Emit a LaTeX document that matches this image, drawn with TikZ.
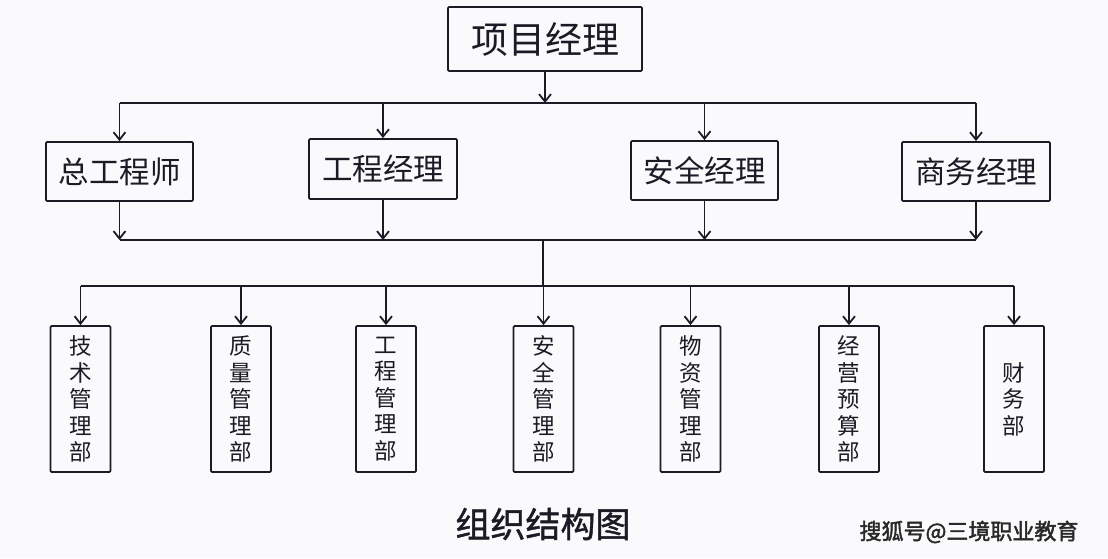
\documentclass[tikz,border=0pt]{standalone}
\usepackage{fontspec}
\setmainfont{Noto Sans CJK SC}
\newfontfamily\cjkbold{Noto Sans CJK SC}[FakeBold=1.2]
\newfontfamily\cjkwm{Noto Sans CJK SC}[FakeBold=2]
\usetikzlibrary{arrows.meta}
\definecolor{bgc}{RGB}{250,250,252}
\definecolor{inkc}{RGB}{28,26,36}
\definecolor{wmc}{RGB}{40,40,40}
\begin{document}
\begin{tikzpicture}[x=1pt,y=-1pt,
  line width=1.8pt, draw=inkc,
  box/.style={draw=inkc, line width=1.8pt, rounded corners=1.2pt, inner sep=0pt, text=inkc},
  mgr/.style={box, minimum width=147pt, minimum height=59pt, font=\fontsize{30.5}{30.5}\selectfont},
  dept/.style={box, minimum width=60pt, minimum height=146pt, align=center, font=\fontsize{22.5}{26.5}\selectfont},
  arr/.style={-{Straight Barb[length=7.5pt,width=12pt]}, line width=1.8pt, draw=inkc},
  bus/.style={line width=1.8pt, draw=inkc}]
\fill[bgc] (0,0) rectangle (1108,558);
\useasboundingbox (0,0) rectangle (1108,558);

\node[box, minimum width=194pt, minimum height=64pt, font=\fontsize{37}{37}\selectfont] (pm) at (545,39) {项目经理};

\node[mgr] (zg) at (119.5,171.5) {总工程师};
\node[mgr, minimum width=148pt, minimum height=60pt] (gc) at (383,169) {工程经理};
\node[mgr] (aq) at (704.5,170.5) {安全经理};
\node[mgr, minimum width=148pt] (sw) at (976,171.5) {商务经理};

\node[dept] (d1) at (80.5,399) {技\\术\\管\\理\\部};
\node[dept] (d2) at (241,399) {质\\量\\管\\理\\部};
\node[dept] (d3) at (386,399) {工\\程\\管\\理\\部};
\node[dept] (d4) at (543.5,399) {安\\全\\管\\理\\部};
\node[dept] (d5) at (690.5,399) {物\\资\\管\\理\\部};
\node[dept] (d6) at (849,399) {经\\营\\预\\算\\部};
\node[dept] (d7) at (1014,399) {财\\务\\部};

\coordinate (j1) at (545,103);
\coordinate (j2) at (543,240);
\coordinate (j3) at (543,286);

% top bus
\draw[arr] (pm.south) -- (j1);
\draw[bus, rounded corners=1pt] (zg.north |- j1) -- (sw.north |- j1);
\foreach \n in {zg,gc,aq,sw} \draw[arr] (\n.north |- j1) -- (\n.north);

% middle bus
\draw[bus] (zg.south |- j2) -- (sw.south |- j2);
\foreach \n in {zg,gc,aq,sw} \draw[arr] (\n.south) -- (\n.south |- j2);
\draw[bus] (j2) -- (j3);

% bottom bus
\draw[bus, rounded corners=2pt] (d1.north |- j3) -- (d7.north |- j3);
\foreach \n in {d1,d2,d3,d4,d5,d6,d7} \draw[arr] (\n.north |- j3) -- (\n.north);

\node[text=inkc, font=\cjkbold\fontsize{35}{35}\selectfont, inner sep=0pt] (title) at (543,524) {组织结构图};
\node[text=wmc, font=\cjkwm\fontsize{22}{22}\selectfont, inner sep=0pt] (wm) at (969,532) {搜狐号@三境职业教育};
\end{tikzpicture}
\end{document}
